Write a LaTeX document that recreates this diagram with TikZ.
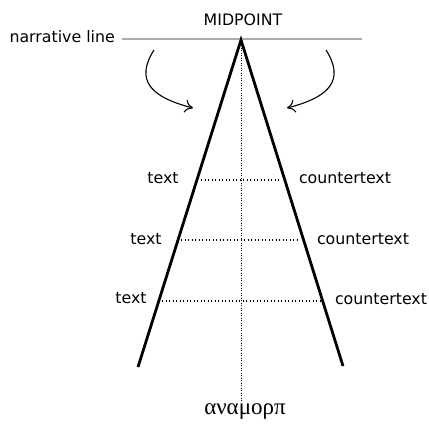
\documentclass[tikz,border=0pt]{standalone}
\usepackage{fontspec}
\setmainfont{DejaVu Sans}
\newfontfamily\greekfont{Liberation Serif}
\usetikzlibrary{arrows.meta}
\begin{document}
\begin{tikzpicture}[x=1pt,y=-1pt,
  lbl/.style={font=\fontsize{15.8}{18}\selectfont, inner sep=0pt},
  leg/.style={line width=2.8pt},
  dots/.style={line width=1.2pt, dash pattern=on 1.2pt off 2.3pt},
  curvearrow/.style={line width=1.1pt, -{To[length=8pt,width=13pt]}}]
\useasboundingbox (0,0) rectangle (429,424);
\coordinate (apex) at (241,40);
\coordinate (nl0) at (122,39);
\coordinate (nl1) at (362,39);
\draw[line width=2.5pt, color=black!33] (nl0) -- (nl1);
\node[lbl, anchor=east] (nlt) at (115,37) {narrative line};
\node[lbl] (mid) at (243,20) {MIDPOINT};
\coordinate (bot) at (241,401);
\draw[line width=0.9pt, dash pattern=on 1pt off 1.5pt] (apex) -- (bot);
\coordinate (lend) at (138,367);
\coordinate (rend) at (343,366);
\draw[leg] (lend) -- (apex) -- (rend);
% horizontal dotted rows
\coordinate (l1) at (201,180); \coordinate (r1) at (279,180);
\coordinate (l2) at (181,240); \coordinate (r2) at (297,240);
\coordinate (l3) at (162,301); \coordinate (r3) at (322,301);
\draw[dots] (l1) -- (r1);
\draw[dots] (l2) -- (r2);
\draw[dots] (l3) -- (r3);
\node[lbl] (t1) at (163,178) {text};
\node[lbl] (c1) at (345,178) {countertext};
\node[lbl] (t2) at (146,239) {text};
\node[lbl] (c2) at (363,239) {countertext};
\node[lbl] (t3) at (131,298) {text};
\node[lbl] (c3) at (381,299) {countertext};
\node[inner sep=0pt, font=\greekfont\fontsize{23}{26}\selectfont] (ana) at (245,412) {αναμορπ};
% curved arrows
\coordinate (a0) at (154,50);
\coordinate (a1) at (193,108);
\coordinate (b0) at (326,50);
\coordinate (b1) at (287,108);
\draw[curvearrow] (a0) .. controls (135,80) and (150,97) .. (a1);
\draw[curvearrow] (b0) .. controls (345,80) and (330,97) .. (b1);
\end{tikzpicture}
\end{document}
